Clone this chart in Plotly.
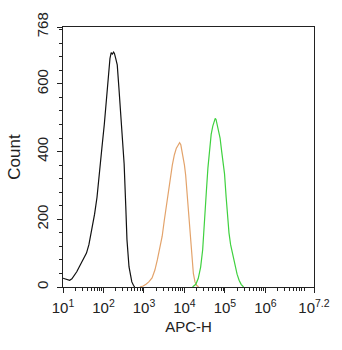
import plotly.graph_objects as go

# log10(APC-H) positions and counts
black_logx = [1.00, 1.05, 1.10, 1.165, 1.22, 1.28, 1.34, 1.40, 1.46, 1.52, 1.58, 1.64, 1.71, 1.78,
              1.84, 1.90, 1.96, 2.02, 2.08, 2.12, 2.16, 2.19, 2.22, 2.25, 2.27,
              2.30, 2.34, 2.38, 2.42, 2.46, 2.51, 2.55, 2.58, 2.63, 2.67, 2.70, 2.74, 2.77]
black_count = [26, 24, 22, 20, 24, 33, 45, 59, 72, 88, 100, 125, 167, 215,
               265, 330, 410, 480, 560, 630, 675, 692, 688, 694, 690,
               676, 656, 590, 520, 440, 364, 240, 140, 60, 28, 15, 5, 0]

orange_logx = [2.90, 2.98, 3.05, 3.12, 3.20, 3.27, 3.33, 3.40, 3.45, 3.50, 3.55, 3.60, 3.65, 3.70,
               3.75, 3.80, 3.84, 3.88, 3.91, 3.94, 3.97, 4.00, 4.03, 4.06, 4.09, 4.12, 4.15, 4.18,
               4.22, 4.26, 4.30, 4.35]
orange_count = [0, 3, 8, 15, 27, 50, 80, 120, 150, 195, 240, 275, 320, 360,
                390, 410, 418, 426, 420, 400, 385, 360, 330, 285, 235, 185, 130, 80,
                40, 15, 5, 0]

green_logx = [4.20, 4.28, 4.34, 4.40, 4.45, 4.50, 4.54, 4.58, 4.62, 4.66, 4.70, 4.73, 4.76, 4.78,
              4.81, 4.85, 4.88, 4.92, 4.96, 4.99, 5.03, 5.06, 5.10, 5.14, 5.17, 5.22, 5.26, 5.30,
              5.35, 5.40, 5.46]
green_count = [0, 8, 25, 59, 110, 190, 280, 352, 410, 451, 475, 490, 498, 495,
               480, 460, 440, 400, 360, 334, 265, 205, 160, 125, 108, 75, 52, 38,
               20, 8, 0]

x_tick_exps = [1, 2, 3, 4, 5, 6, 7.2]
x_tick_text = ["10<sup>1</sup>", "10<sup>2</sup>", "10<sup>3</sup>", "10<sup>4</sup>",
               "10<sup>5</sup>", "10<sup>6</sup>", "10<sup>7.2</sup>"]
y_tick_vals = [0, 200, 400, 600, 768]

FONT = "Liberation Sans, Arial, sans-serif"

fig = go.Figure()
for lx, cnt, col in [(black_logx, black_count, "#111111"),
                     (orange_logx, orange_count, "#E3A36B"),
                     (green_logx, green_count, "#3FD13F")]:
    fig.add_trace(go.Scatter(x=[10 ** v for v in lx], y=cnt, mode="lines",
                             line=dict(color=col, width=1.2), showlegend=False,
                             hoverinfo="skip"))

minor_x = [m * 10 ** k for k in range(1, 7) for m in range(2, 10)]
minor_x = [v for v in minor_x if v < 10 ** 7.2]

fig.update_layout(
    width=342, height=350,
    margin=dict(l=63, r=16, t=25, b=63),
    paper_bgcolor="white", plot_bgcolor="white",
    font=dict(family=FONT, size=15, color="#222222"),
    xaxis=dict(
        type="log", range=[1, 7.2],
        tickmode="array", tickvals=[10 ** e for e in x_tick_exps], ticktext=x_tick_text,
        ticks="outside", ticklen=5, tickwidth=1, tickcolor="#222",
        minor=dict(tickmode="array", tickvals=minor_x, ticks="outside", ticklen=3,
                   tickwidth=1, tickcolor="#222", showgrid=False),
        showline=True, linecolor="#222", linewidth=1.2, mirror=True,
        showgrid=False, zeroline=False,
        tickfont=dict(size=15), ticklabelstandoff=2,
        title=dict(text="APC-H", font=dict(size=15), standoff=6),
    ),
    yaxis=dict(
        range=[0, 768],
        tickmode="array", tickvals=y_tick_vals,
        ticks="outside", ticklen=5, tickwidth=1, tickcolor="#222",
        minor=dict(dtick=40, tick0=0, ticks="outside", ticklen=3, tickwidth=1,
                   tickcolor="#222", showgrid=False),
        showline=True, linecolor="#222", linewidth=1.2, mirror=True,
        showgrid=False, zeroline=False,
        tickangle=-90, tickfont=dict(size=15), ticklabelstandoff=3,
        title=dict(text="Count", font=dict(size=17), standoff=8),
    ),
)

fig.write_html("out.html")
